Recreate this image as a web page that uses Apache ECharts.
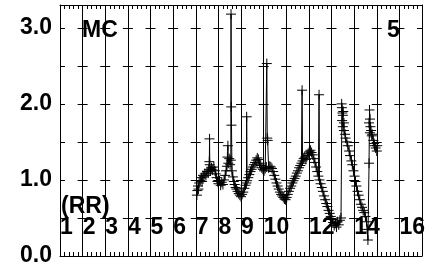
<!DOCTYPE html>
<html>
<head>
<meta charset="utf-8">
<script src="https://cdn.jsdelivr.net/npm/echarts@6/dist/echarts.min.js"></script>
<style>
html,body{margin:0;padding:0;background:#fff;}
#chart{width:440px;height:262px;}
</style>
</head>
<body>
<div id="chart"></div>
<script>
// x tick labels (ticks 1..17)
var xTickLabels = ['1','2','3','4','5','6','7','8','9','10','','12','','14','','16',''];
var yLabelValues = [0, 1, 2, 3];
var cornerLeft = 'MC';
var cornerRight = '5';
var axisName = '(RR)';

var xs = [
 7.05,7.07,7.10,7.12,7.15,7.20,7.25,7.28,7.32,7.36,7.40,7.45,7.50,7.55,7.58,7.60,7.61,7.62,7.65,7.70,
 7.75,7.80,7.85,7.88,7.92,7.96,8.00,8.05,8.10,8.15,8.20,8.25,8.30,8.34,8.38,8.40,8.42,8.44,8.48,8.52,
 8.55,8.56,8.57,8.58,8.60,8.64,8.68,8.72,8.76,8.80,8.85,8.90,8.95,9.00,9.05,9.10,9.15,9.20,9.24,9.25,
 9.27,9.32,9.37,9.42,9.47,9.52,9.57,9.62,9.67,9.72,9.77,9.82,9.87,9.92,9.97,10.02,10.07,10.12,10.14,10.16,
 10.18,10.22,10.27,10.32,10.37,10.42,10.47,10.52,10.57,10.62,10.67,10.72,10.77,10.82,10.87,10.92,10.97,11.02,11.07,11.12,
 11.17,11.22,11.27,11.32,11.37,11.42,11.47,11.52,11.57,11.62,11.67,11.70,11.72,11.77,11.82,11.87,11.92,11.97,12.02,12.07,
 12.12,12.17,12.22,12.27,12.32,12.37,12.42,12.45,12.47,12.52,12.57,12.62,12.67,12.72,12.77,12.82,12.87,12.92,12.97,13.02,
 13.07,13.12,13.17,13.22,13.27,13.32,13.37,13.42,13.46,13.48,13.45,13.50,13.47,13.52,13.50,13.55,13.55,13.60,13.62,13.68,
 13.72,13.78,13.82,13.88,13.92,13.97,14.02,14.06,14.10,14.15,14.20,14.25,14.30,14.35,14.40,14.45,14.50,14.55,14.58,14.61,
 14.66,14.68,14.70,14.66,14.72,14.70,14.75,14.78,14.80,14.85,14.88,14.90,14.95,15.00,15.02
];
var ys = [
 0.80,0.86,0.92,0.88,0.96,0.99,1.03,0.98,1.06,1.04,1.08,1.06,1.11,1.09,1.14,1.24,1.54,1.20,1.12,1.16,
 1.13,1.17,1.12,1.08,1.03,0.98,0.95,0.99,0.93,0.97,0.94,1.00,1.06,1.12,1.18,1.30,1.45,1.22,1.28,1.20,
 1.26,3.18,1.96,1.72,1.12,1.04,0.98,0.94,0.90,0.88,0.85,0.82,0.80,0.78,0.81,0.84,0.89,0.93,0.96,1.83,
 0.99,1.03,1.07,1.11,1.14,1.17,1.20,1.23,1.26,1.29,1.27,1.22,1.19,1.16,1.14,1.12,1.15,1.17,2.53,1.55,
 1.52,1.16,1.18,1.17,1.15,1.11,1.06,1.01,0.96,0.92,0.88,0.84,0.81,0.79,0.77,0.75,0.74,0.77,0.81,0.85,
 0.89,0.92,0.96,0.99,1.02,1.05,1.09,1.12,1.16,1.19,1.22,2.18,1.25,1.28,1.30,1.27,1.32,1.35,1.37,1.39,
 1.36,1.33,1.28,1.23,1.17,1.11,1.05,2.12,1.00,0.95,0.90,0.85,0.79,0.74,0.69,0.65,0.60,0.56,0.52,0.48,
 0.44,0.40,0.43,0.38,0.45,0.41,0.47,0.50,1.95,1.88,2.00,1.85,1.78,1.90,1.70,1.75,1.65,1.60,1.55,1.50,
 1.45,1.38,1.32,1.25,1.20,1.12,1.05,0.98,0.92,0.85,0.80,0.74,0.68,0.64,0.60,0.57,0.52,0.45,0.35,0.21,
 1.22,1.92,1.80,1.75,1.70,1.62,1.65,1.58,1.60,1.52,1.48,1.45,1.42,1.38,1.45
];

var data = xs.map(function (x, i) { return [x, ys[i]]; });
var FONT = '"Liberation Sans", Arial, sans-serif';

var chart = echarts.init(document.getElementById('chart'), null, {renderer: 'canvas'});
var xMin = 1, xMax = 17;
var gridLeft = 60, gridRight = 18;
var step = (440 - gridLeft - gridRight) / (xMax - xMin);

function yFmt(v) {
  for (var i = 0; i < yLabelValues.length; i++) {
    if (Math.abs(v - yLabelValues[i]) < 1e-6) return v.toFixed(1);
  }
  return '';
}

chart.setOption({
  animation: false,
  backgroundColor: '#fff',
  grid: {left: gridLeft, right: gridRight, top: 5, bottom: 6, containLabel: false, outerBoundsMode: 'none'},
  xAxis: [{
    type: 'value', min: xMin, max: xMax, interval: 1, position: 'bottom',
    axisLine: {show: true, onZero: false, lineStyle: {color: '#000', width: 1}},
    axisTick: {show: true, inside: true, length: 4, lineStyle: {color: '#000'}},
    minorTick: {show: true, splitNumber: 5, length: 4, lineStyle: {color: '#000', width: 1}},
    splitLine: {show: true, lineStyle: {color: '#000', width: 1}},
    axisLabel: {
      show: true, inside: true, margin: 17, interval: 0, align: 'left',
      color: '#000', fontSize: 23, fontWeight: 'bold', fontFamily: FONT,
      showMinLabel: true, showMaxLabel: true, hideOverlap: false,
      formatter: function (v) { var s = xTickLabels[Math.round(v) - xMin]; return s === undefined ? '' : s; }
    }
  }, {
    type: 'value', min: xMin, max: xMax, interval: 1, position: 'top',
    axisLine: {show: true, onZero: false, lineStyle: {color: '#000', width: 1}},
    axisTick: {show: true, inside: true, length: 4, lineStyle: {color: '#000'}},
    minorTick: {show: true, splitNumber: 5, length: 4, lineStyle: {color: '#000', width: 1}},
    splitLine: {show: false},
    axisLabel: {show: false}
  }],
  yAxis: [{
    type: 'value', min: 0, max: 3.3, interval: 0.5, position: 'left',
    axisLine: {show: true, onZero: false, lineStyle: {color: '#000', width: 1}},
    axisTick: {show: true, inside: true, length: 5, lineStyle: {color: '#000'}},
    splitLine: {show: true, lineStyle: {color: '#000', width: 1, type: [10, step - 10], dashOffset: 5}},
    axisLabel: {
      show: true, margin: 8, color: '#000', fontSize: 23, fontWeight: 'bold', fontFamily: FONT,
      padding: [3, 0, 0, 0],
      showMaxLabel: false, formatter: yFmt
    }
  }, {
    type: 'value', min: 0, max: 3.3, interval: 0.5, position: 'right',
    axisLine: {show: true, onZero: false, lineStyle: {color: '#000', width: 1}},
    axisTick: {show: true, inside: true, length: 5, lineStyle: {color: '#000'}},
    splitLine: {show: false},
    axisLabel: {show: false}
  }],
  graphic: [
    {type: 'text', x: 82, y: 31, z: 100, style: {text: cornerLeft, font: 'bold 23px ' + FONT, fill: '#000', verticalAlign: 'middle', align: 'left'}},
    {type: 'text', x: 387, y: 31, z: 100, style: {text: cornerRight, font: 'bold 23px ' + FONT, fill: '#000', verticalAlign: 'middle', align: 'left'}},
    {type: 'text', x: 61, y: 207, z: 100, style: {text: axisName, font: 'bold 23px ' + FONT, fill: '#000', verticalAlign: 'middle', align: 'left'}}
  ],
  series: [{
    type: 'line', xAxisIndex: 0, yAxisIndex: 0,
    data: data,
    symbol: 'path://M0,5L10,5M5,0L5,10',
    symbolSize: 10,
    showAllSymbol: true,
    smooth: false,
    lineStyle: {color: '#000', width: 1},
    itemStyle: {color: 'rgba(0,0,0,0)', borderColor: '#000', borderWidth: 1},
    emphasis: {disabled: true},
    z: 5
  }]
});
</script>
</body>
</html>
